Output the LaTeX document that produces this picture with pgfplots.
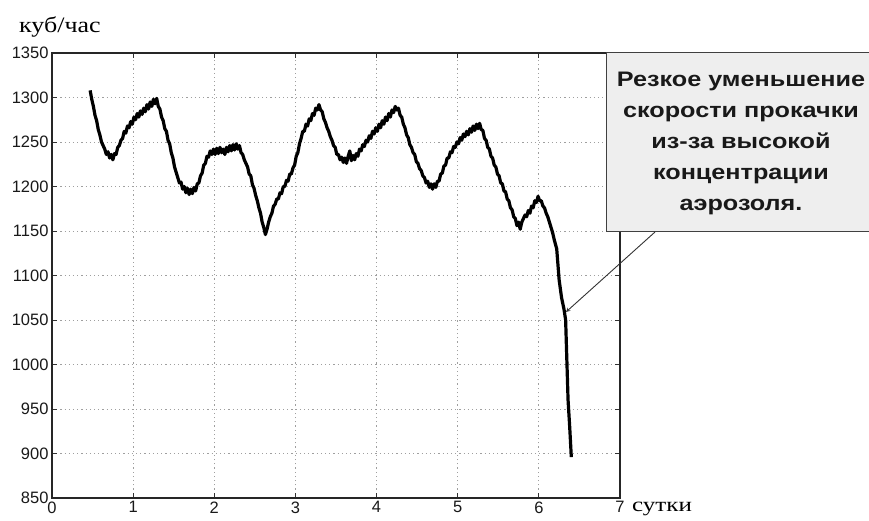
\documentclass[border=0pt]{standalone}
\usepackage{pgfplots}
\pgfplotsset{compat=1.18}
\usepackage{fontspec}
\setmainfont{Liberation Serif}
\newfontfamily\arial{Liberation Sans}
\newfontfamily\widearial[FakeStretch=1.2]{Liberation Sans}
\newfontfamily\wideserif[FakeStretch=1.18]{Liberation Serif}
\newfontfamily\wideserifb[FakeStretch=1.25]{Liberation Serif}
\begin{document}
\begin{tikzpicture}
\begin{axis}[
  at={(0pt,0pt)}, anchor=south west,
  width=568pt, height=445pt, scale only axis,
  xmin=0, xmax=7, ymin=850, ymax=1350,
  xtick={0,1,...,7}, ytick={850,900,...,1350},
  /pgf/number format/assume math mode=true,
  /pgf/number format/1000 sep={},
  ticklabel style={font=\arial\fontsize{16.5}{16.5}\selectfont, text=black!90},
  major tick length=5pt,
  tick style={black!80, line width=0.8pt},
  axis line style={black!85, line width=1.4pt},
  grid=major,
  major grid style={gray!75, line width=0.9pt, dash pattern=on 1.2pt off 3pt},
]
\addplot[black, line width=3.2pt, line join=round] coordinates {
(0.47,1308) (0.49,1298) (0.51,1290) (0.53,1280) (0.55,1274) (0.57,1264) (0.59,1258) (0.61,1250) (0.63,1246) (0.65,1242)
(0.67,1236) (0.69,1239) (0.71,1232) (0.73,1236) (0.75,1230) (0.77,1237) (0.79,1236) (0.81,1244) (0.83,1246) (0.85,1252)
(0.87,1254) (0.89,1262) (0.91,1260) (0.93,1268) (0.95,1266) (0.97,1273) (0.99,1270) (1.01,1278) (1.03,1275) (1.05,1282)
(1.07,1278) (1.09,1285) (1.11,1281) (1.13,1288) (1.15,1284) (1.17,1292) (1.19,1287) (1.21,1295) (1.23,1290) (1.25,1298)
(1.27,1293) (1.29,1299) (1.31,1290) (1.33,1287) (1.35,1278) (1.37,1274) (1.39,1265) (1.41,1262) (1.43,1252) (1.45,1248)
(1.47,1238) (1.49,1232) (1.51,1222) (1.53,1216) (1.55,1210) (1.57,1204) (1.59,1205) (1.61,1197) (1.63,1200) (1.65,1193)
(1.67,1198) (1.69,1191) (1.71,1197) (1.73,1192) (1.75,1199) (1.77,1195) (1.79,1203) (1.81,1204) (1.83,1212) (1.85,1215)
(1.87,1224) (1.89,1226) (1.91,1234) (1.93,1233) (1.95,1240) (1.97,1236) (1.99,1242) (2.01,1236) (2.03,1243) (2.05,1237)
(2.07,1244) (2.09,1238) (2.11,1242) (2.13,1236) (2.15,1244) (2.17,1239) (2.19,1246) (2.21,1240) (2.23,1247) (2.25,1241)
(2.27,1248) (2.29,1242) (2.31,1246) (2.33,1238) (2.35,1236) (2.37,1230) (2.39,1226) (2.41,1222) (2.43,1214) (2.45,1212)
(2.47,1202) (2.49,1198) (2.51,1190) (2.53,1184) (2.55,1176) (2.57,1170) (2.59,1160) (2.61,1154) (2.63,1146) (2.65,1152)
(2.67,1160) (2.69,1166) (2.71,1170) (2.73,1178) (2.75,1180) (2.77,1186) (2.79,1186) (2.81,1193) (2.83,1192) (2.85,1200)
(2.87,1200) (2.89,1207) (2.91,1206) (2.93,1214) (2.95,1214) (2.97,1221) (2.99,1224) (3.01,1234) (3.03,1238) (3.05,1248)
(3.07,1254) (3.09,1262) (3.11,1262) (3.13,1270) (3.15,1268) (3.17,1276) (3.19,1274) (3.21,1282) (3.23,1280) (3.25,1288)
(3.27,1286) (3.29,1292) (3.31,1286) (3.33,1284) (3.35,1276) (3.37,1272) (3.39,1266) (3.41,1262) (3.43,1256) (3.45,1252)
(3.47,1246) (3.49,1244) (3.51,1236) (3.53,1236) (3.55,1230) (3.57,1233) (3.59,1227) (3.61,1232) (3.63,1226) (3.65,1234)
(3.67,1240) (3.69,1229) (3.71,1235) (3.73,1230) (3.75,1237) (3.77,1234) (3.79,1242) (3.81,1240) (3.83,1247) (3.85,1245)
(3.87,1252) (3.89,1250) (3.91,1257) (3.93,1254) (3.95,1262) (3.97,1259) (3.99,1266) (4.01,1262) (4.03,1270) (4.05,1266)
(4.07,1274) (4.09,1270) (4.11,1278) (4.13,1274) (4.15,1282) (4.17,1278) (4.19,1286) (4.21,1283) (4.23,1290) (4.25,1286)
(4.27,1288) (4.29,1280) (4.31,1278) (4.33,1270) (4.35,1266) (4.37,1258) (4.39,1255) (4.41,1247) (4.43,1244) (4.45,1238)
(4.47,1236) (4.49,1228) (4.51,1226) (4.53,1220) (4.55,1218) (4.57,1212) (4.59,1210) (4.61,1204) (4.63,1206) (4.65,1199)
(4.67,1203) (4.69,1197) (4.71,1203) (4.73,1199) (4.75,1206) (4.77,1206) (4.79,1214) (4.81,1215) (4.83,1223) (4.85,1224)
(4.87,1232) (4.89,1232) (4.91,1239) (4.93,1238) (4.95,1245) (4.97,1244) (4.99,1250) (5.01,1248) (5.03,1255) (5.05,1252)
(5.07,1259) (5.09,1256) (5.11,1262) (5.13,1258) (5.15,1265) (5.17,1261) (5.19,1268) (5.21,1263) (5.23,1270) (5.25,1265)
(5.27,1271) (5.29,1264) (5.31,1263) (5.33,1254) (5.35,1252) (5.37,1244) (5.39,1242) (5.41,1234) (5.43,1232) (5.45,1224)
(5.47,1222) (5.49,1214) (5.51,1212) (5.53,1204) (5.55,1203) (5.57,1195) (5.59,1194) (5.61,1186) (5.63,1184) (5.65,1176)
(5.67,1174) (5.69,1166) (5.71,1164) (5.73,1156) (5.75,1160) (5.77,1152) (5.79,1160) (5.81,1164) (5.83,1168) (5.85,1166)
(5.87,1173) (5.89,1170) (5.91,1178) (5.93,1176) (5.95,1184) (5.97,1182) (5.99,1189) (6.01,1184) (6.03,1184) (6.05,1178)
(6.07,1176) (6.09,1170) (6.11,1166) (6.13,1160) (6.15,1154) (6.17,1148) (6.19,1140) (6.22,1130) (6.25,1095) (6.28,1075)
(6.31,1062) (6.33,1050) (6.34,1020) (6.35,990) (6.36,960) (6.38,930) (6.40,896)
};
\end{axis}
% annotation
\draw[black!75, line width=0.9pt, fill=gray!13] (554pt,267pt) rectangle (835pt,446pt);
\node[align=center, font=\widearial\bfseries\fontsize{21}{31}\selectfont, text=black!90] at (689pt,355pt)
  {Резкое уменьшение\\скорости прокачки\\из-за высокой\\концентрации\\аэрозоля.};
\draw[black!80, line width=0.9pt, -stealth] (603pt,266pt) -- (514pt,186pt);
\node[font=\wideserif\fontsize{22}{22}\selectfont, anchor=base west, inner sep=0pt] at (-33pt,465pt) {куб/час};
\node[font=\wideserifb\fontsize{20}{20}\selectfont, anchor=base west, inner sep=0pt] at (580pt,-13pt) {сутки};
\pgfresetboundingbox
\path (-52pt,-22pt) rectangle (817pt,498pt);
\end{tikzpicture}
\end{document}
